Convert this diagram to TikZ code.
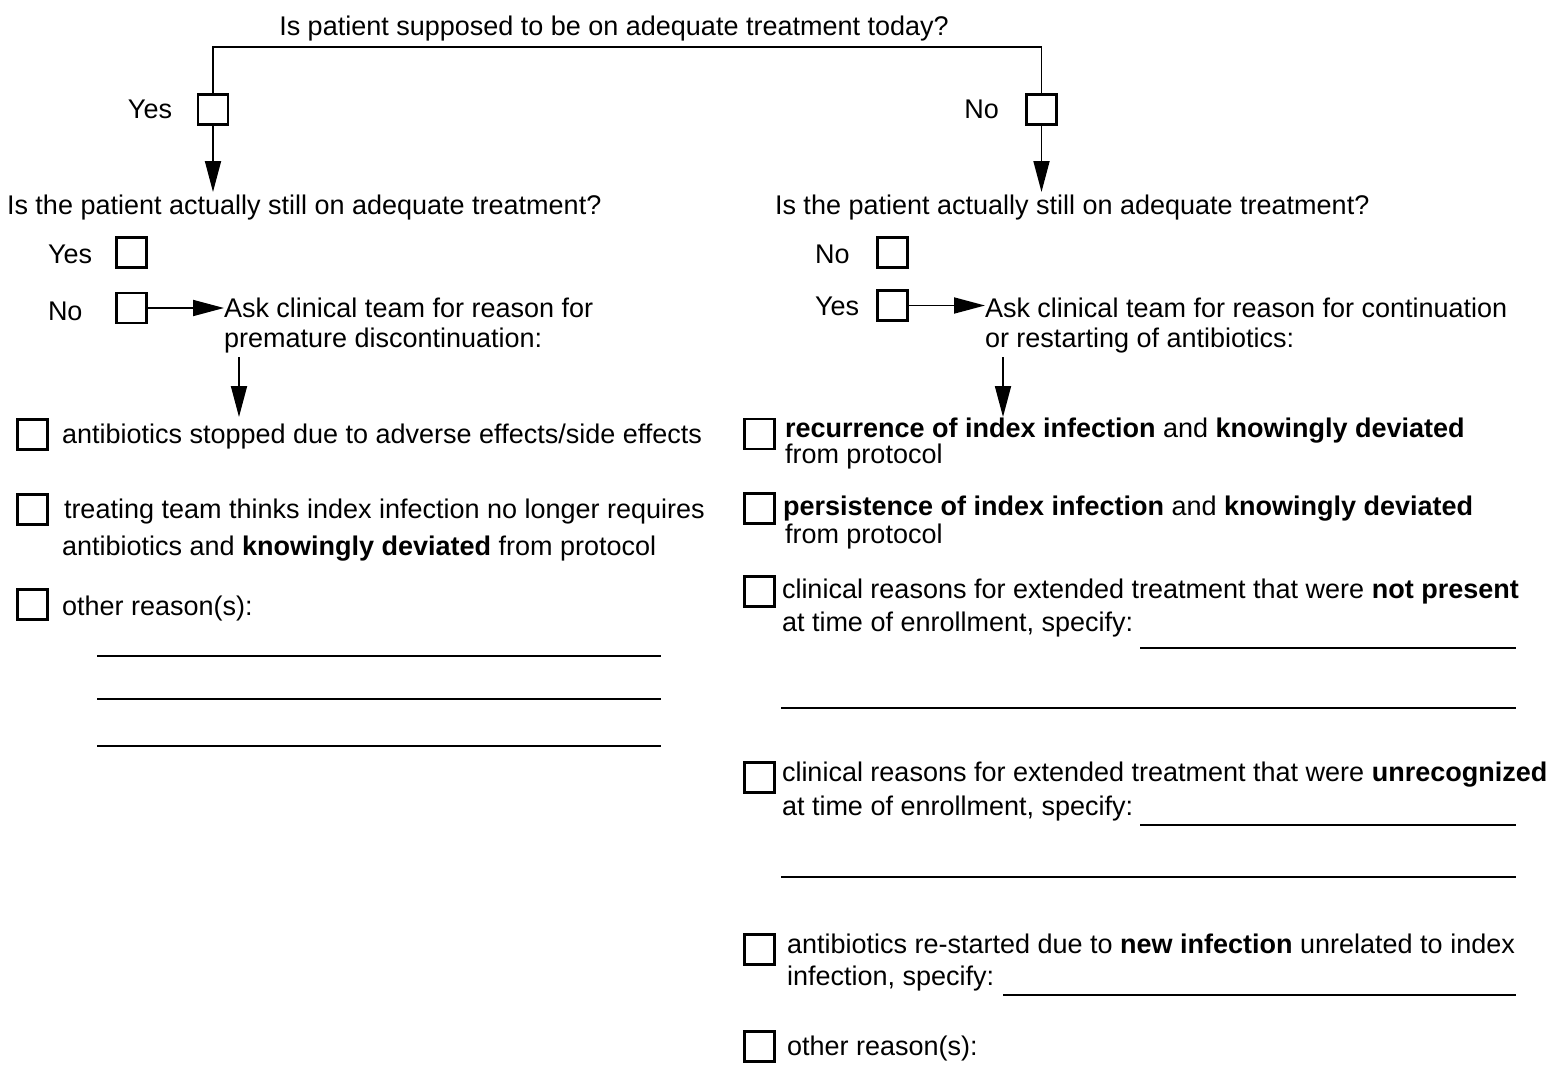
\documentclass[tikz,border=0pt]{standalone}
\usepackage{fontspec}
\setmainfont{Liberation Sans}
\usetikzlibrary{arrows.meta}
\begin{document}
\begin{tikzpicture}[x=1pt,y=-1pt,
  every node/.style={font=\fontsize{27}{32}\selectfont},
  txt/.style={anchor=base west, inner sep=0pt, outer sep=0pt},
  lbl/.style={anchor=base east, inner sep=0pt, outer sep=0pt},
  cb/.style={draw, line width=2.4pt, minimum size=30pt, inner sep=0pt, outer sep=0pt, shape=rectangle},
  conn/.style={line width=1.8pt},
  arr/.style={line width=1.8pt, -{Triangle[length=31pt,width=16pt]}},
  blank/.style={line width=1.6pt}]
\useasboundingbox (0,0) rectangle (1553,1065);

% top question
\node[anchor=base, inner sep=0pt] (title) at (614,36) {Is patient supposed to be on adequate treatment today?};
\node[cb] (tyes) at (213,109.5) {};
\node[cb] (tno) at (1041.5,109.5) {};
\node[lbl] (tyeslbl) at (172,118) {Yes};
\node[lbl] (tnolbl) at (999,118) {No};
\coordinate (tbar) at (627,47);
\draw[conn] (tyes.north) |- (tbar) -| (tno.north);

% second questions
\node[txt] (qL) at (7,214) {Is the patient actually still on adequate treatment?};
\node[txt] (qR) at (775,214) {Is the patient actually still on adequate treatment?};
\coordinate (qLtip) at (213,192);
\coordinate (qRtip) at (1041.5,192);
\draw[arr] (tyes.south) -- (qLtip);
\draw[arr] (tno.south) -- (qRtip);

% left branch
\node[cb] (lyes) at (131.5,252.5) {};
\node[cb] (lno) at (131.5,308) {};
\node[txt] (lyeslbl) at (48,263) {Yes};
\node[txt] (lnolbl) at (48,320) {No};
\node[txt] (lask1) at (224,317) {Ask clinical team for reason for};
\node[txt] (lask2) at (224,347) {premature discontinuation:};
\draw[arr] (lno.east) -- (lno.east -| lask1.west);
\coordinate (ld1) at (239,357);
\coordinate (ld2) at (239,417);
\draw[arr] (ld1) -- (ld2);

\node[cb] (la) at (32.5,434.5) {};
\node[txt] (lat) at (62,443) {antibiotics stopped due to adverse effects/side effects};
\node[cb] (lb) at (32.5,509.5) {};
\node[txt] (lbt1) at (64,518) {treating team thinks index infection no longer requires};
\node[txt] (lbt2) at (62,555) {antibiotics and \textbf{knowingly deviated} from protocol};
\node[cb] (lc) at (32.5,604.5) {};
\node[txt] (lct) at (62,615) {other reason(s):};
\draw[blank] (97,656) -- (661,656);
\draw[blank] (97,699) -- (661,699);
\draw[blank] (97,746) -- (661,746);

% right branch
\node[cb] (rno) at (892.5,252.5) {};
\node[cb] (ryes) at (892.5,305.5) {};
\node[txt] (rnolbl) at (815,263) {No};
\node[txt] (ryeslbl) at (815,315) {Yes};
\node[txt] (rask1) at (985,317) {Ask clinical team for reason for continuation};
\node[txt] (rask2) at (985,347) {or restarting of antibiotics:};
\draw[arr] (ryes.east) -- (ryes.east -| rask1.west);
\coordinate (rd1) at (1003,357);
\coordinate (rd2) at (1003,417);
\draw[arr] (rd1) -- (rd2);

\node[cb] (ra) at (759.5,434) {};
\node[txt] (rat1) at (785,437) {\textbf{recurrence of index infection} and \textbf{knowingly deviated}};
\node[txt] (rat2) at (785,463) {from protocol};
\node[cb] (rb) at (759.5,508.5) {};
\node[txt] (rbt1) at (783,515) {\textbf{persistence of index infection} and \textbf{knowingly deviated}};
\node[txt] (rbt2) at (785,543) {from protocol};
\node[cb] (rc) at (759.5,591.5) {};
\node[txt] (rct1) at (782,598) {clinical reasons for extended treatment that were \textbf{not present}};
\node[txt] (rct2) at (782,631) {at time of enrollment, specify:};
\draw[blank] (1140,648) -- (1516,648);
\draw[blank] (781,708) -- (1516,708);
\node[cb] (rd) at (759.5,777.5) {};
\node[txt] (rdt1) at (782,781) {clinical reasons for extended treatment that were \textbf{unrecognized}};
\node[txt] (rdt2) at (782,815) {at time of enrollment, specify:};
\draw[blank] (1140,825) -- (1516,825);
\draw[blank] (781,877) -- (1516,877);
\node[cb] (re) at (759.5,949.5) {};
\node[txt] (ret1) at (787,953) {antibiotics re-started due to \textbf{new infection} unrelated to index};
\node[txt] (ret2) at (787,985) {infection, specify:};
\draw[blank] (1003,995) -- (1516,995);
\node[cb] (rf) at (759.5,1046.5) {};
\node[txt] (rft) at (787,1055) {other reason(s):};
\end{tikzpicture}
\end{document}
